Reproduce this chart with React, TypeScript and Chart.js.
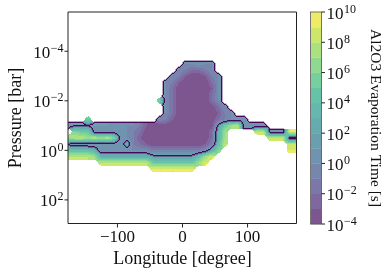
import React, { useEffect, useRef } from 'react';
import { Chart, registerables } from 'chart.js';

Chart.register(...registerables);

// ---- data ----
const LON_MIN = -176;
const LON_MAX = 176;
const P_MIN = 2.6e-6;
const P_MAX = 940;

const LONGITUDES = [
  -175, -165, -155, -145, -135, -125, -115, -105, -95, -85, -75, -65,
  -55, -45, -35, -25, -15, -5, 5, 15, 25, 35, 45, 55,
  65, 75, 85, 95, 105, 115, 125, 135, 145, 155, 165, 175,
];

// log10(pressure / bar) of each field row
const LOG_PRESSURES = [
  -3.75, -3.5, -3.25, -3.0, -2.75, -2.5, -2.25, -2.0, -1.75, -1.5,
  -1.25, -1.0, -0.75, -0.5, -0.25, 0, 0.25, 0.5, 0.75,
];

// log10 evaporation time [s]: 'A' = -4, 'B' = -3, ... 'O' = 10, '.' = no data
const FIELD_ROWS = [
  '...... ...... ...... ...... ...... ......',
  '...... ...... ...... EEFEE. ...... ......',
  '...... ...... .....E DCCDE. ...... ......',
  '...... ...... ....ED BAABDE ...... ......',
  '...... ...... ...EDB AAAACE ...... ......',
  '...... ...... ...ECA AAAABE ...... ......',
  '...... ...... ...ECA AAAACE ...... ......',
  '...... ...... ..JECA AAAACE ...... ......',
  '...... ...... ...ECA AAAAAC E..... ......',
  '...... ...... ...ECA AAAAAB DE.... ......',
  '...J.. ...... ..EDBA AAAAAC DEEE.. ......',
  'FFFFFF FEEEED BAAAAA AAAAAG JLMEEE E.....',
  '.KJJEE EEEEDC AAAAAA AAAACH L....M MEEENN',
  'LMMLML MKEEDB AAAAAA AAAACH L..... .MMMEE',
  'FEEEEE EEEHDC BAAAAA AAABDI M..... ....MM',
  'IIIIHE EEEEEE EDDDDD DDDEHK ...... ....NN',
  'MMMMLH HHHHHH HGGGGG GGILN. ...... ......',
  '.....M MMMMMM MJJJJJ JJLN.. ...... ......',
  '...... ...... .NNNNN NN.... ...... ......',
];

const CB_LEVELS = [-4, -3, -2, -1, 0, 1, 2, 3, 4, 5, 6, 7, 8, 9, 10];
const CB_TICKS = [-4, -2, 0, 2, 4, 6, 8, 10];
const X_TICKS = [-100, 0, 100];
const Y_TICK_EXPONENTS = [-4, -2, 0, 2];
const LINE_LEVEL = 1.5;

const X_TITLE = 'Longitude [degree]';
const Y_TITLE = 'Pressure [bar]';
const CB_TITLE = 'Al2O3 Evaporation Time [s]';

// ---- styles ----
const VIRIDIS = [
  [68, 1, 84], [72, 36, 117], [65, 68, 135], [53, 95, 141], [42, 120, 142],
  [33, 145, 140], [34, 168, 132], [68, 191, 112], [122, 209, 81], [189, 223, 38], [253, 231, 37],
];
const ALPHA = 0.7;
const LINE_RGB = [68, 1, 84];
const FAMILY = '"Liberation Serif", "DejaVu Serif", serif';
const BASE_FONT = `17px ${FAMILY}`;
const EXP_FONT = `12px ${FAMILY}`;
const TITLE_FONT = `18px ${FAMILY}`;
const TEXT = '#111';

const FIELD: (number | null)[][] = FIELD_ROWS.map((r) =>
  r.replace(/ /g, '').split('').map((ch) => (ch === '.' ? null : ch.charCodeAt(0) - 65 + CB_LEVELS[0]))
);

function viridis(t: number) {
  const s = Math.max(0, Math.min(1, t)) * 10;
  const i = Math.min(9, Math.floor(s));
  const f = s - i;
  const a = VIRIDIS[i], b = VIRIDIS[i + 1];
  return [a[0] + (b[0] - a[0]) * f, a[1] + (b[1] - a[1]) * f, a[2] + (b[2] - a[2]) * f];
}
function bandColor(band: number) {
  const c = viridis((band + 0.5) / (CB_LEVELS.length - 1));
  return c.map((v) => Math.round(ALPHA * v + (1 - ALPHA) * 255));
}

function locate(arr: number[], v: number) {
  const n = arr.length;
  if (v <= arr[0]) return (v - arr[0]) / (arr[1] - arr[0]);
  if (v >= arr[n - 1]) return n - 1 + (v - arr[n - 1]) / (arr[n - 1] - arr[n - 2]);
  let i = 0;
  while (arr[i + 1] < v) i++;
  return i + (v - arr[i]) / (arr[i + 1] - arr[i]);
}

function sample(fcIn: number, fr: number) {
  const nC = LONGITUDES.length, nR = LOG_PRESSURES.length;
  const fc = Math.max(0, Math.min(nC - 1, fcIn));
  const c0 = Math.min(nC - 2, Math.floor(fc));
  const tx = fc - c0;
  const r0 = Math.floor(fr);
  const ty = fr - r0;
  const corners: [number, number, number][] = [
    [r0, c0, (1 - tx) * (1 - ty)],
    [r0, c0 + 1, tx * (1 - ty)],
    [r0 + 1, c0, (1 - tx) * ty],
    [r0 + 1, c0 + 1, tx * ty],
  ];
  let ws = 0, vs = 0;
  for (const [r, c, w] of corners) {
    if (r < 0 || r >= nR) continue;
    const v = FIELD[r][c];
    if (v == null) continue;
    ws += w;
    vs += w * v;
  }
  if (ws < 0.5) return NaN;
  return vs / ws;
}

function drawPow(ctx: CanvasRenderingContext2D, exp: number, x: number, y: number, align: 'left' | 'right') {
  const base = '10';
  const e = exp < 0 ? '\u2212' + Math.abs(exp) : String(exp);
  ctx.font = BASE_FONT;
  const wb = ctx.measureText(base).width;
  ctx.font = EXP_FONT;
  const we = ctx.measureText(e).width;
  const x0 = align === 'left' ? x : x - wb - we - 0.5;
  ctx.textAlign = 'left';
  ctx.textBaseline = 'alphabetic';
  ctx.fillStyle = TEXT;
  ctx.font = BASE_FONT;
  ctx.fillText(base, x0, y + 6.5);
  ctx.font = EXP_FONT;
  ctx.fillText(e, x0 + wb + 0.5, y + 0.5);
}

const fieldPlugin = {
  id: 'field',
  afterDraw(chart: any) {
    const { ctx, chartArea: a, scales } = chart;
    const xs = scales.x, ys = scales.y, cb = scales.cb;
    const L = Math.round(a.left), T = Math.round(a.top), R = Math.round(a.right), B = Math.round(a.bottom);
    const W = R - L, H = B - T;
    const img = ctx.createImageData(W, H);
    const inside = new Uint8Array(W * H);
    const rgb = new Uint8ClampedArray(W * H * 3);
    const colsF: number[] = [];
    for (let i = 0; i < W; i++) colsF.push(locate(LONGITUDES, xs.getValueForPixel(L + i + 0.5)));
    for (let j = 0; j < H; j++) {
      const fr = locate(LOG_PRESSURES, Math.log10(ys.getValueForPixel(T + j + 0.5)));
      for (let i = 0; i < W; i++) {
        const v = sample(colsF[i], fr);
        const k = j * W + i;
        let c = [255, 255, 255];
        if (!isNaN(v)) {
          const band = Math.max(0, Math.min(CB_LEVELS.length - 2, Math.floor(v - CB_LEVELS[0])));
          c = bandColor(band);
          if (v < LINE_LEVEL) inside[k] = 1;
        }
        rgb[k * 3] = c[0];
        rgb[k * 3 + 1] = c[1];
        rgb[k * 3 + 2] = c[2];
      }
    }
    for (let j = 0; j < H; j++) {
      for (let i = 0; i < W; i++) {
        const k = j * W + i;
        const me = inside[k];
        let edge = false;
        const nb = [[i - 1, j], [i + 1, j], [i, j - 1], [i, j + 1]];
        for (const [ii, jj] of nb) {
          if (ii < 0 || jj < 0 || ii >= W || jj >= H) continue;
          if (inside[jj * W + ii] !== me) edge = true;
        }
        let r = rgb[k * 3], g = rgb[k * 3 + 1], b = rgb[k * 3 + 2];
        if (edge) {
          const f = me ? 0.95 : 0.35;
          r = r * (1 - f) + LINE_RGB[0] * f;
          g = g * (1 - f) + LINE_RGB[1] * f;
          b = b * (1 - f) + LINE_RGB[2] * f;
        }
        img.data[k * 4] = r;
        img.data[k * 4 + 1] = g;
        img.data[k * 4 + 2] = b;
        img.data[k * 4 + 3] = 255;
      }
    }
    ctx.putImageData(img, L, T);

    ctx.save();
    // frame
    ctx.strokeStyle = '#222';
    ctx.lineWidth = 1;
    ctx.beginPath();
    ctx.moveTo(L, B - 0.5);
    ctx.lineTo(L, T);
    ctx.lineTo(R - 0.5, T);
    ctx.lineTo(R - 0.5, B - 0.5);
    ctx.lineTo(L, B - 0.5);
    ctx.stroke();

    // x ticks and labels
    ctx.fillStyle = TEXT;
    ctx.font = BASE_FONT;
    ctx.textAlign = 'center';
    ctx.textBaseline = 'alphabetic';
    for (const t of X_TICKS) {
      const px = xs.getPixelForValue(t);
      ctx.beginPath();
      ctx.moveTo(px, B);
      ctx.lineTo(px, B + 3.5);
      ctx.stroke();
      const label = t < 0 ? '\u2212' + Math.abs(t) : String(t);
      ctx.fillText(label, px, B + 18);
    }
    // y ticks and labels
    for (const e of Y_TICK_EXPONENTS) {
      const py = ys.getPixelForValue(Math.pow(10, e));
      ctx.beginPath();
      ctx.moveTo(L - 3.5, py);
      ctx.lineTo(L, py);
      ctx.stroke();
      drawPow(ctx, e, L - 4.5, py, 'right');
    }
    // titles
    ctx.fillStyle = TEXT;
    ctx.font = TITLE_FONT;
    ctx.textAlign = 'center';
    ctx.textBaseline = 'alphabetic';
    ctx.fillText(X_TITLE, (L + R) / 2, 264);
    ctx.save();
    ctx.translate(21, (T + B) / 2);
    ctx.rotate(-Math.PI / 2);
    ctx.fillText(Y_TITLE, 0, 0);
    ctx.restore();

    // colorbar
    const cbL = 311, cbW = 10.5;
    for (let i = 0; i < CB_LEVELS.length - 1; i++) {
      const y1 = cb.getPixelForValue(CB_LEVELS[i]);
      const y2 = cb.getPixelForValue(CB_LEVELS[i + 1]);
      const c = bandColor(i);
      ctx.fillStyle = `rgb(${c[0]},${c[1]},${c[2]})`;
      ctx.fillRect(cbL, y2, cbW, y1 - y2 + 0.3);
    }
    const cTop = cb.getPixelForValue(CB_LEVELS[CB_LEVELS.length - 1]);
    const cBot = cb.getPixelForValue(CB_LEVELS[0]);
    ctx.strokeStyle = '#555';
    ctx.lineWidth = 0.8;
    ctx.strokeRect(cbL - 0.5, cTop, cbW + 0.5, cBot - cTop);
    ctx.strokeStyle = '#222';
    ctx.lineWidth = 1;
    for (const t of CB_TICKS) {
      const py = cb.getPixelForValue(t);
      ctx.beginPath();
      ctx.moveTo(cbL + cbW, py);
      ctx.lineTo(cbL + cbW + 3.5, py);
      ctx.stroke();
      drawPow(ctx, t, cbL + cbW + 5, py, 'left');
    }
    ctx.fillStyle = TEXT;
    ctx.font = `15.5px ${FAMILY}`;
    ctx.textAlign = 'center';
    ctx.textBaseline = 'alphabetic';
    ctx.save();
    ctx.translate(371, (cTop + cBot) / 2);
    ctx.rotate(Math.PI / 2);
    ctx.fillText(CB_TITLE, 0, 0);
    ctx.restore();
    ctx.restore();
  },
};

export default function App() {
  const ref = useRef<HTMLCanvasElement>(null);
  useEffect(() => {
    const chart = new Chart(ref.current as HTMLCanvasElement, {
      type: 'scatter',
      data: { datasets: [{ data: [] }] },
      options: {
        responsive: false,
        animation: false,
        devicePixelRatio: 1,
        layout: { padding: { left: 68, top: 12, right: 94, bottom: 51 } },
        plugins: { legend: { display: false }, tooltip: { enabled: false } },
        scales: {
          x: { type: 'linear', min: LON_MIN, max: LON_MAX, display: false },
          y: { type: 'logarithmic', min: P_MIN, max: P_MAX, reverse: true, display: false },
          cb: { type: 'linear', axis: 'y', position: 'right', min: CB_LEVELS[0], max: CB_LEVELS[CB_LEVELS.length - 1], display: false },
        },
      } as any,
      plugins: [fieldPlugin],
    });
    return () => chart.destroy();
  }, []);
  return (
    <div style={{ position: 'fixed', left: 0, top: 0, width: 391, height: 275, background: '#fff' }}>
      <canvas ref={ref} width={391} height={275} style={{ display: 'block' }} />
    </div>
  );
}
